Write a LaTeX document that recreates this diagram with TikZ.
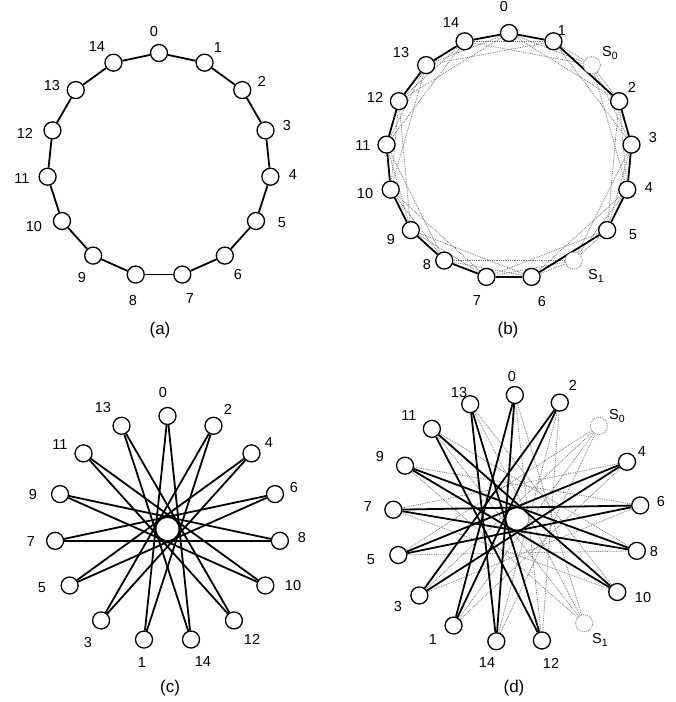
\documentclass[tikz,border=0pt]{standalone}
\usepackage{fontspec}
\setmainfont{Liberation Sans}
\pgfdeclarelayer{bg}
\pgfsetlayers{bg,main}
\begin{document}
\begin{tikzpicture}[x=1pt,y=-1pt,
  nd/.style={circle,draw,line width=1.3pt,fill=white,minimum size=17pt,inner sep=0pt},
  spare/.style={circle,draw=black!50,densely dotted,line width=0.9pt,fill=white,minimum size=17pt,inner sep=0pt},
  lbl/.style={inner sep=0pt,font=\fontsize{14.5}{16}\selectfont},
  captxt/.style={inner sep=0pt,font=\fontsize{17}{19}\selectfont},
  blk/.style={line width=1.8pt},
  gry/.style={draw=black!55,densely dotted,line width=0.8pt}]
\useasboundingbox (0,0) rectangle (676,702);

% ---------------- (a) ----------------
\foreach \k in {0,...,14}{
  \node[nd] (a\k) at ({159+112*cos(90-24*\k)},{165-112*sin(90-24*\k)}) {};
}
\begin{pgfonlayer}{bg}
\foreach \k [evaluate=\k as \n using {int(mod(\k+1,15))}] in {0,...,14}
  \draw[blk] (a\k) -- (a\n);
\end{pgfonlayer}
\foreach \t/\px/\py in {0/154/32,1/218/48,2/262/81,3/287/126,4/293/175,5/282/223,6/238/275,7/190/299,8/133/301,9/82/278,10/34/227,11/22/179,12/25/133,13/52/86,14/97/47}
  \node[lbl] (la\t) at (\px,\py) {\t};
\node[captxt] (capa) at (160,330) {(a)};

% ---------------- (b) ----------------
\foreach \t/\p in {0/0,1/1,2/3,3/4,4/5,5/6,6/8,7/9,8/10,9/11,10/12,11/13,12/14,13/15,14/16}{
  \node[nd] (b\t) at ({509+123*cos(90-\p*360/17)},{156-123*sin(90-\p*360/17)}) {};
}
\node[spare] (bS0) at ({509+123*cos(90-2*360/17)},{156-123*sin(90-2*360/17)}) {};
\node[spare] (bS1) at ({509+123*cos(90-7*360/17)},{156-123*sin(90-7*360/17)}) {};
\begin{pgfonlayer}{bg}
\foreach \u/\v in {1/S0,S0/2,5/S1,S1/6,
                   0/S0,S0/3,2/4,3/5,4/S1,S1/7,6/8,7/9,8/10,9/11,10/12,11/13,12/14,13/0,14/1,
                   0/2,1/3,S0/4,2/5,3/S1,4/6,5/7,S1/8,6/9,7/10,8/11,9/12,10/13,11/14,12/0,13/1,14/S0}
  \draw[gry] (b\u) -- (b\v);
\foreach \k [evaluate=\k as \n using {int(mod(\k+1,15))}] in {0,...,14}
  \draw[blk] (b\k) -- (b\n);
\end{pgfonlayer}
\foreach \t/\px/\py in {14/451/23,0/504/7,1/562/31,2/632/87,3/653/138,4/649/188,5/633/235,6/542/302,7/477/301,8/427/265,9/391/240,10/365/194,11/363/146,12/375/97,13/401/53}
  \node[lbl] (lb\t) at (\px,\py) {\t};
\node[lbl,anchor=west] (lbS0) at (602,53) {S\raisebox{-0.35ex}{\fontsize{10.5}{10}\selectfont 0}};
\node[lbl,anchor=west] (lbS1) at (588,276) {S\raisebox{-0.35ex}{\fontsize{10.5}{10}\selectfont 1}};
\node[captxt] (capb) at (508,330) {(b)};

% ---------------- (c) ----------------
\foreach \t/\p in {0/0,1/8,2/1,3/9,4/2,5/10,6/3,7/11,8/4,9/12,10/5,11/13,12/6,13/14,14/7}{
  \node[nd] (c\t) at ({167.5+113*cos(90-24*\p)},{529-113*sin(90-24*\p)}) {};
}
\begin{pgfonlayer}{bg}
\foreach \k [evaluate=\k as \n using {int(mod(\k+1,15))}] in {0,...,14}
  \draw[blk] (c\k) -- (c\n);
\end{pgfonlayer}
\foreach \t/\px/\py in {0/163/393,2/228/409,4/269/443,6/294/488,8/302/538,10/293/586,12/252/639,14/203/662,1/142/663,3/88/642,5/42/588,7/31/542,9/33/495,11/60/445,13/103/408}
  \node[lbl] (lc\t) at (\px,\py) {\t};
\node[captxt] (capc) at (170,688) {(c)};

% ---------------- (d) ----------------
\foreach \t/\p in {0/0,2/1,4/3,6/4,8/5,10/6,12/8,14/9,1/10,3/11,5/12,7/13,9/14,11/15,13/16}{
  \node[nd] (d\t) at ({517+124*cos(91-\p*360/17)},{519-124*sin(91-\p*360/17)}) {};
}
\node[spare] (dS0) at ({517+124*cos(91-2*360/17)},{519-124*sin(91-2*360/17)}) {};
\node[spare] (dS1) at ({517+124*cos(91-7*360/17)},{519-124*sin(91-7*360/17)}) {};
\begin{pgfonlayer}{bg}
\foreach \u/\v in {0/S1,2/12,S0/14,4/1,6/3,8/5,10/7,S1/9,5/S0,7/4,9/6,11/8,13/10,0/12,2/14,S0/1,S1/11,3/S0,13/S1}
  \draw[gry] (d\u) -- (d\v);
\foreach \k [evaluate=\k as \n using {int(mod(\k+1,15))}] in {0,...,14}
  \draw[blk] (d\k) -- (d\n);
\end{pgfonlayer}
\foreach \t/\px/\py in {13/459/393,0/512/377,2/573/385,4/642/452,6/661/502,8/654/552,10/643/598,12/551/663,14/487/663,1/433/640,3/398/606,5/371/560,7/368/507,9/380/457,11/409/416}
  \node[lbl] (ld\t) at (\px,\py) {\t};
\node[lbl,anchor=west] (ldS0) at (609,416) {S\raisebox{-0.35ex}{\fontsize{10.5}{10}\selectfont 0}};
\node[lbl,anchor=west] (ldS1) at (592,640) {S\raisebox{-0.35ex}{\fontsize{10.5}{10}\selectfont 1}};
\node[captxt] (capd) at (514,688) {(d)};
\end{tikzpicture}
\end{document}
